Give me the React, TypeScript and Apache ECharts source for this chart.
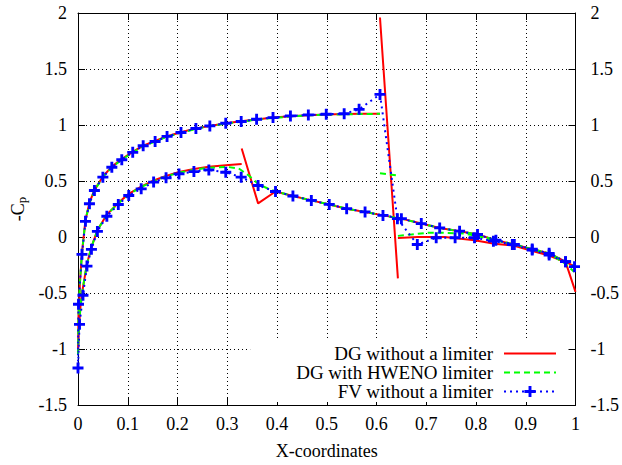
import React, { useEffect, useRef } from "react";
import * as echarts from "echarts";

// ---- axis ticks ----
const xMin = 0;
const xMax = 1;
const xStep = 0.1;
const yMin = -1.5;
const yMax = 2;
const yStep = 0.5;

const legendNames = ["DG without a limiter", "DG with HWENO limiter", "FV without a limiter"];

// ---- DG without a limiter (red): element pieces ----
const dgLower: number[][] = [
  [0, -1.05], [0.002, -0.8], [0.005, -0.62], [0.01, -0.45], [0.018, -0.24], [0.027, -0.09],
  [0.039, 0.06], [0.058, 0.2], [0.081, 0.305], [0.102, 0.385], [0.127, 0.45], [0.152, 0.505],
  [0.177, 0.545], [0.203, 0.58], [0.233, 0.607], [0.263, 0.627], [0.297, 0.64], [0.329, 0.652],
];
const dgLowerAft: number[][] = [
  [0.329, 0.79], [0.362, 0.3], [0.397, 0.406], [0.432, 0.366], [0.469, 0.327], [0.505, 0.291],
  [0.54, 0.253], [0.577, 0.224], [0.613, 0.193], [0.65, 0.164], [0.69, 0.12], [0.727, 0.081],
  [0.767, 0.052], [0.803, 0.022], [0.84, -0.028], [0.877, -0.067], [0.913, -0.108],
  [0.947, -0.146], [0.98, -0.22], [1.0, -0.27],
];
const dgUpper: number[][] = [
  [0, -1.05], [0.001, -0.7], [0.004, -0.4], [0.008, -0.14], [0.015, 0.15], [0.023, 0.305],
  [0.033, 0.42], [0.05, 0.54], [0.068, 0.628], [0.088, 0.695], [0.11, 0.76], [0.131, 0.815],
  [0.155, 0.858], [0.179, 0.9], [0.207, 0.935], [0.237, 0.97], [0.265, 0.992], [0.297, 1.016],
  [0.328, 1.033], [0.359, 1.05], [0.392, 1.066], [0.427, 1.078], [0.463, 1.088],
  [0.499, 1.094], [0.535, 1.098], [0.57, 1.1], [0.607, 1.1],
];
const dgUpperShock: number[][] = [[0.607, 1.96], [0.643, -0.37]];
const dgUpperAft: number[][] = [
  [0.643, -0.01], [0.683, 0.0], [0.737, 0.0], [0.797, -0.03], [0.837, -0.06], [0.877, -0.078],
  [0.91, -0.12], [0.943, -0.16], [0.977, -0.22], [0.983, -0.262], [1.0, -0.49],
];

// ---- DG with HWENO limiter (green) ----
const hwLower: number[][] = [
  [0, -1.05], [0.002, -0.8], [0.005, -0.62], [0.01, -0.45], [0.018, -0.24], [0.027, -0.09],
  [0.039, 0.06], [0.058, 0.2], [0.081, 0.3], [0.102, 0.38], [0.127, 0.445], [0.152, 0.5],
  [0.177, 0.54], [0.203, 0.575], [0.233, 0.6], [0.263, 0.618], [0.3, 0.626], [0.323, 0.612],
  [0.343, 0.55], [0.363, 0.47], [0.383, 0.43], [0.397, 0.406], [0.432, 0.366], [0.469, 0.327],
  [0.505, 0.291], [0.54, 0.253], [0.577, 0.224], [0.613, 0.193], [0.65, 0.164], [0.69, 0.12],
  [0.727, 0.081], [0.767, 0.052], [0.803, 0.022], [0.84, -0.028], [0.877, -0.067],
  [0.913, -0.108], [0.947, -0.146], [0.98, -0.22], [1.0, -0.27],
];
const hwUpper: number[][] = [
  [0, -1.05], [0.001, -0.7], [0.004, -0.4], [0.008, -0.14], [0.015, 0.15], [0.023, 0.3],
  [0.033, 0.415], [0.05, 0.535], [0.068, 0.622], [0.088, 0.69], [0.11, 0.755], [0.131, 0.81],
  [0.155, 0.853], [0.179, 0.895], [0.207, 0.93], [0.237, 0.966], [0.265, 0.99], [0.297, 1.013],
  [0.328, 1.03], [0.359, 1.048], [0.392, 1.063], [0.427, 1.076], [0.463, 1.086],
  [0.499, 1.092], [0.535, 1.096], [0.57, 1.098], [0.607, 1.1],
];
const hwUpperShock: number[][] = [[0.607, 0.57], [0.643, 0.55]];
const hwUpperAft: number[][] = [
  [0.643, 0.01], [0.703, 0.037], [0.737, 0.037], [0.777, 0.03], [0.803, 0.01], [0.837, -0.03],
  [0.877, -0.065], [0.913, -0.11], [0.947, -0.15], [0.98, -0.24], [0.997, -0.31],
];

// ---- FV without a limiter (blue, + markers) ----
const fvLower: number[][] = [
  [0.003, -0.78], [0.01, -0.52], [0.018, -0.26], [0.027, -0.11], [0.039, 0.05], [0.058, 0.185],
  [0.081, 0.29], [0.102, 0.371], [0.127, 0.43], [0.152, 0.49], [0.177, 0.528], [0.203, 0.563],
  [0.233, 0.584], [0.263, 0.599], [0.297, 0.578], [0.328, 0.534], [0.362, 0.46], [0.397, 0.406],
  [0.432, 0.366], [0.469, 0.327], [0.505, 0.291], [0.54, 0.253], [0.577, 0.224], [0.613, 0.193],
  [0.65, 0.164], [0.69, 0.12], [0.727, 0.081], [0.767, 0.052], [0.803, 0.022], [0.84, -0.028],
  [0.877, -0.067], [0.913, -0.108], [0.947, -0.146], [0.98, -0.22],
];
const fvUpper: number[][] = [
  [0, -1.17], [0.001, -0.6], [0.008, -0.155], [0.015, 0.14], [0.023, 0.297], [0.033, 0.415],
  [0.05, 0.534], [0.068, 0.623], [0.088, 0.69], [0.11, 0.756], [0.131, 0.815], [0.155, 0.853],
  [0.179, 0.898], [0.207, 0.933], [0.237, 0.969], [0.265, 0.992], [0.297, 1.016], [0.328, 1.031],
  [0.359, 1.051], [0.392, 1.066], [0.427, 1.081], [0.463, 1.09], [0.499, 1.096], [0.535, 1.1],
  [0.565, 1.14], [0.607, 1.273], [0.642, 0.164], [0.682, -0.067], [0.72, -0.007], [0.758, -0.007],
  [0.797, -0.007], [0.835, -0.037], [0.873, -0.067], [0.913, -0.117], [0.947, -0.161],
  [0.98, -0.22], [0.998, -0.265],
];

const BREAK: any[] = [null, null];
function joinPieces(...pieces: number[][][]) {
  const out: any[] = [];
  pieces.forEach((p, i) => {
    if (i > 0) out.push(BREAK);
    p.forEach((pt) => out.push(pt));
  });
  return out;
}

const FONT = "Liberation Serif";
const PLUS = "path://M3.7,0H6.3V3.7H10V6.3H6.3V10H3.7V6.3H0V3.7H3.7Z";

const fmt = (v: number) => String(Math.round(v * 10) / 10);

export default function App() {
  const ref = useRef<HTMLDivElement>(null);
  useEffect(() => {
    if (!ref.current) return;
    const chart = echarts.init(ref.current, undefined, { renderer: "svg" });
    const labelStyle = { color: "#000", fontFamily: FONT, fontSize: 18 };
    const tick = { show: true, inside: true, length: 7, lineStyle: { color: "#000", width: 1 } };
    const axisLine = { show: true, onZero: false, lineStyle: { color: "#000", width: 1 } };
    const split = { show: true, lineStyle: { color: "#000", width: 1, type: [1, 3] as any } };
    chart.setOption({
      animation: false,
      backgroundColor: "#fff",
      grid: { left: 78, right: 44, top: 13, bottom: 58, containLabel: false },
      legend: {
        data: legendNames,
        orient: "vertical",
        align: "right",
        right: 54,
        top: 340,
        padding: [4, 11, 1, 46],
        backgroundColor: "#fff",
        itemWidth: 52,
        itemHeight: 14,
        itemGap: 0,
        textStyle: { color: "#000", fontFamily: FONT, fontSize: 19, padding: [0, 6, 0, 0] },
      },
      xAxis: [
        {
          type: "value", min: xMin, max: xMax, interval: xStep, position: "bottom",
          name: "X-coordinates", nameLocation: "middle", nameGap: 37,
          nameTextStyle: { ...labelStyle },
          axisLine, axisTick: tick,
          axisLabel: { ...labelStyle, margin: 10, formatter: fmt },
          splitLine: split,
        },
        {
          type: "value", min: xMin, max: xMax, interval: xStep, position: "top",
          axisLine, axisTick: tick, axisLabel: { show: false }, splitLine: { show: false },
        },
      ],
      yAxis: [
        {
          type: "value", min: yMin, max: yMax, interval: yStep, position: "left",
          name: "-C{sub|p}", nameLocation: "middle", nameGap: 50, nameRotate: 90,
          nameTextStyle: { ...labelStyle, rich: { sub: { fontFamily: FONT, fontSize: 13, color: "#000", padding: [6, 0, 0, 0] } } },
          axisLine, axisTick: tick,
          axisLabel: { ...labelStyle, margin: 11, formatter: fmt },
          splitLine: split,
        },
        {
          type: "value", min: yMin, max: yMax, interval: yStep, position: "right",
          axisLine, axisTick: tick,
          axisLabel: { ...labelStyle, margin: 15, formatter: fmt },
          splitLine: { show: false },
        },
      ],
      series: [
        {
          name: legendNames[0], type: "line", xAxisIndex: 0, yAxisIndex: 0,
          data: joinPieces(dgLower, dgLowerAft, dgUpper, dgUpperShock, dgUpperAft),
          symbol: "none", showSymbol: false, connectNulls: false,
          lineStyle: { color: "#ff0000", width: 2 }, itemStyle: { color: "rgba(0,0,0,0)" },
        },
        {
          name: legendNames[1], type: "line", xAxisIndex: 0, yAxisIndex: 0,
          data: joinPieces(hwLower, hwUpper, hwUpperShock, hwUpperAft),
          symbol: "none", showSymbol: false, connectNulls: false,
          lineStyle: { color: "#00ff00", width: 2, type: [6, 4] }, itemStyle: { color: "rgba(0,0,0,0)" },
        },
        {
          name: legendNames[2], type: "line", xAxisIndex: 0, yAxisIndex: 0,
          data: [...fvLower.slice().reverse(), ...fvUpper],
          symbol: PLUS, symbolSize: 11, showSymbol: true,
          lineStyle: { color: "#0000ff", width: 2, type: [2, 4] }, itemStyle: { color: "#0000ff" },
        },
      ],
    });
    return () => chart.dispose();
  }, []);
  return <div ref={ref} style={{ width: 622, height: 465, position: "absolute", left: 0, top: 0 }} />;
}
